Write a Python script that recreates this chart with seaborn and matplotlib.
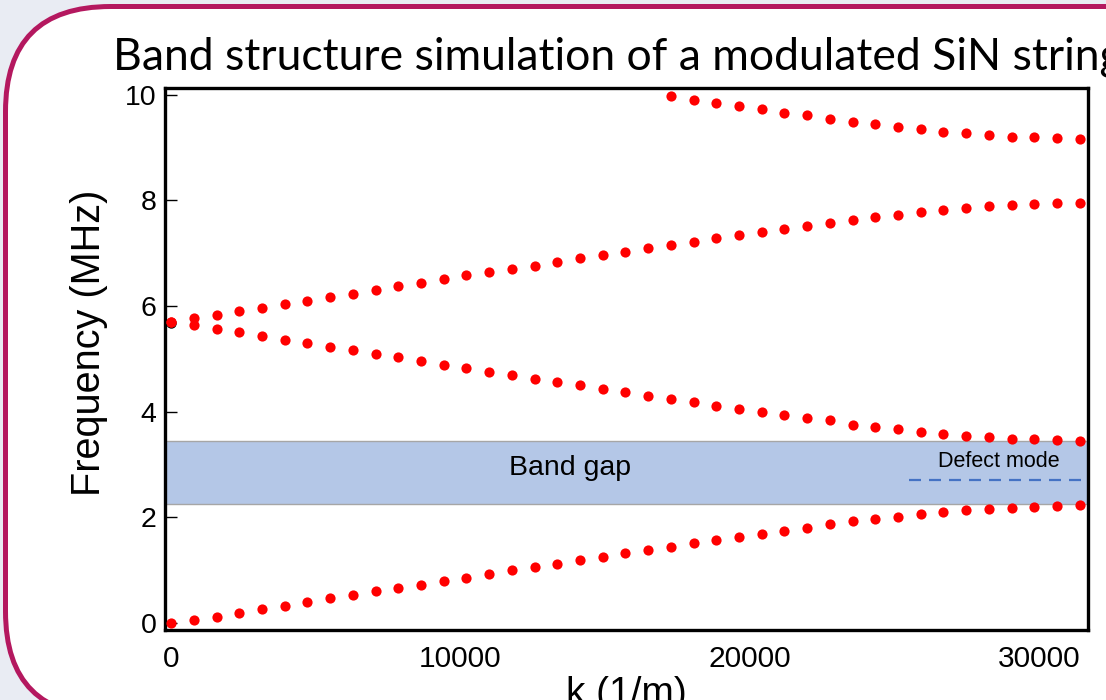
import numpy as np
import pandas as pd
import matplotlib
matplotlib.use("Agg")
import matplotlib.pyplot as plt
from matplotlib.patches import FancyBboxPatch
import seaborn as sns

# wave numbers (1/m), 41 samples across the first Brillouin zone
k_grid = np.linspace(0, 31416, 41)

# frequencies (MHz)
band1 = [0.00, 0.05, 0.11, 0.19, 0.25, 0.32, 0.39, 0.46, 0.53, 0.59, 0.65,
         0.72, 0.79, 0.85, 0.92, 0.99, 1.05, 1.12, 1.18, 1.25, 1.31, 1.38,
         1.44, 1.50, 1.56, 1.63, 1.68, 1.74, 1.80, 1.87, 1.93, 1.97, 2.01,
         2.05, 2.09, 2.14, 2.16, 2.18, 2.20, 2.21, 2.22]
band2 = [5.70, 5.63, 5.56, 5.50, 5.43, 5.36, 5.29, 5.22, 5.16, 5.09, 5.03,
         4.96, 4.89, 4.83, 4.75, 4.69, 4.62, 4.56, 4.50, 4.43, 4.37, 4.30,
         4.24, 4.18, 4.11, 4.05, 4.00, 3.93, 3.88, 3.83, 3.75, 3.71, 3.67,
         3.62, 3.58, 3.54, 3.51, 3.48, 3.47, 3.46, 3.45]
band3 = [5.70, 5.77, 5.83, 5.90, 5.97, 6.04, 6.10, 6.17, 6.23, 6.30, 6.37,
         6.44, 6.51, 6.58, 6.64, 6.70, 6.76, 6.83, 6.90, 6.97, 7.03, 7.09,
         7.16, 7.22, 7.28, 7.34, 7.40, 7.45, 7.52, 7.57, 7.63, 7.68, 7.73,
         7.78, 7.81, 7.86, 7.90, 7.92, 7.94, 7.95, 7.95]
# only the part of band 4 that lies below 10 MHz is visible
band4_start = 22
band4 = [9.97, 9.91, 9.85, 9.78, 9.73, 9.66, 9.61, 9.55, 9.49, 9.44, 9.39,
         9.35, 9.30, 9.27, 9.23, 9.21, 9.20, 9.18, 9.17]

gamma_k = [0, 0]
gamma_f = [0.0, 5.68]

gap_low, gap_high = 2.25, 3.45
defect_f = 2.71
defect_k_start = 25500

xticks = [0, 10000, 20000, 30000]
yticks = [0, 2, 4, 6, 8, 10]

frames = []
for name, vals, ks in [("1", band1, k_grid), ("2", band2, k_grid),
                       ("3", band3, k_grid), ("4", band4, k_grid[band4_start:])]:
    frames.append(pd.DataFrame({"k": ks, "freq": vals, "band": name}))
df = pd.concat(frames, ignore_index=True)

sns.set_style("white")
plt.rcParams["font.family"] = ["Liberation Sans", "DejaVu Sans"]
for key in ["text.color", "axes.labelcolor", "xtick.color", "ytick.color"]:
    plt.rcParams[key] = "black"

W, H = 1106, 700
fig = plt.figure(figsize=(W / 100, H / 100), dpi=100)
fig.patch.set_facecolor("#E9ECF3")

# slide panel behind the chart
bg = fig.add_axes([0, 0, 1, 1])
bg.set_xlim(0, W)
bg.set_ylim(H, 0)
bg.axis("off")
bg.add_patch(FancyBboxPatch((5.5, 6.5), 1300, 710,
                            boxstyle="round,pad=0,rounding_size=105",
                            fc="white", ec="#B4185F", lw=3.6))

L, R, T, B = 165, 1088, 88, 630
ax = fig.add_axes([L / W, 1 - B / H, (R - L) / W, (B - T) / H])
ax.set_facecolor("none")

ax.axhspan(gap_low, gap_high, facecolor="#B4C7E7", edgecolor="#A6A6A6",
           lw=1.0, zorder=1)
ax.plot([defect_k_start, 32000], [defect_f, defect_f], color="#4472C4",
        lw=1.6, dashes=(5.4, 3.6), zorder=2)

ax.scatter(gamma_k[:1], gamma_f[:1], marker="+", color="black", s=40,
           lw=1.2, zorder=2)
ax.scatter(gamma_k[1:], gamma_f[1:], marker="o", color="black", s=56,
           lw=0, zorder=2)
sns.scatterplot(data=df, x="k", y="freq", color="#FF0000", s=54,
                linewidth=0, ax=ax, zorder=3, legend=False)

ax.text(13790, 2.93, "Band gap", ha="center", va="center", fontsize=20.5)
ax.text(28620, 3.05, "Defect mode", ha="center", va="center", fontsize=15.5)

ax.set_xlim(-210, 31700)
ax.set_ylim(-0.14, 10.13)
ax.set_xticks(xticks)
ax.set_yticks(yticks)
ax.tick_params(axis="y", direction="in", length=8.5, width=1.0, pad=6,
               labelsize=20.5, left=True)
ax.tick_params(axis="x", length=0, pad=11, labelsize=21.5)
for s in ax.spines.values():
    s.set_linewidth(2.4)
    s.set_color("black")

ax.set_xlabel("k (1/m)", fontsize=28, labelpad=2)
ax.set_ylabel("Frequency (MHz)", fontsize=28.5)
ax.yaxis.set_label_coords(-0.062, 0.53)

fig.text(113 / W, 1 - 70 / H,
         "Band structure simulation of a modulated SiN string",
         fontsize=32, family=["Lato", "DejaVu Sans"], va="baseline",
         ha="left")

fig.savefig("out.png", dpi=100)
